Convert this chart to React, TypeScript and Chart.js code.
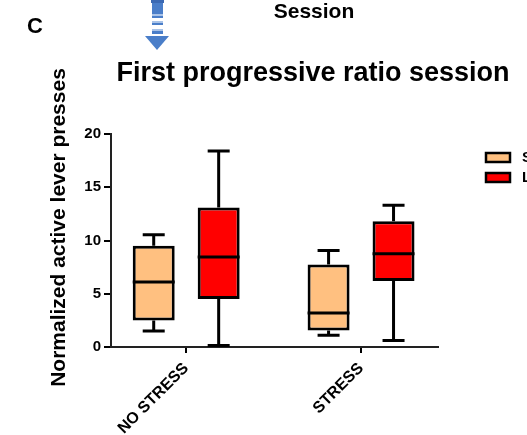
import { useEffect, useRef } from 'react';
import { Chart, registerables } from 'chart.js';

Chart.register(...registerables);

// Groups along the x axis
const categories = ['NO STRESS', 'STRESS'];

// Series names and fills
const seriesNames = ['ShA', 'LgA'];
const seriesColors = ['#FFC080', '#FF0000'];

// ShA box-plot statistics, one value per group
const shaMin = [1.5, 1.1];
const shaQ1 = [2.5, 1.55];
const shaMedian = [6.1, 3.2];
const shaQ3 = [9.5, 7.75];
const shaMax = [10.55, 9.05];

// LgA box-plot statistics, one value per group
const lgaMin = [0.15, 0.6];
const lgaQ1 = [4.5, 6.2];
const lgaMedian = [8.45, 8.75];
const lgaQ3 = [13.1, 11.8];
const lgaMax = [18.4, 13.3];

// Y axis tick values
const yTicks = [0, 5, 10, 15, 20];

const FONT = '"Liberation Sans", Arial, Helvetica, sans-serif';
const ARROW_BLUE = '#4a7ec9';

const seriesStats = [
  { min: shaMin, q1: shaQ1, median: shaMedian, q3: shaQ3, max: shaMax },
  { min: lgaMin, q1: lgaQ1, median: lgaMedian, q3: lgaQ3, max: lgaMax },
];

// Whiskers go under the boxes, medians on top of them
const boxPlotPlugin = {
  id: 'boxPlot',
  beforeDatasetsDraw(chart: any) {
    const ctx = chart.ctx;
    const y = chart.scales.y;
    ctx.save();
    ctx.strokeStyle = '#000';
    ctx.lineWidth = 3;
    ctx.lineCap = 'butt';
    chart.data.datasets.forEach((ds: any, di: number) => {
      const meta = chart.getDatasetMeta(di);
      meta.data.forEach((bar: any, i: number) => {
        const cx = bar.x;
        const yMin = y.getPixelForValue(ds.whiskerMin[i]);
        const yQ1 = y.getPixelForValue(ds.data[i].y[0]);
        const yQ3 = y.getPixelForValue(ds.data[i].y[1]);
        const yMax = y.getPixelForValue(ds.whiskerMax[i]);
        const cap = 11;
        ctx.beginPath();
        ctx.moveTo(cx, yQ1);
        ctx.lineTo(cx, yMin);
        ctx.moveTo(cx - cap, yMin);
        ctx.lineTo(cx + cap, yMin);
        ctx.moveTo(cx, yQ3);
        ctx.lineTo(cx, yMax);
        ctx.moveTo(cx - cap, yMax);
        ctx.lineTo(cx + cap, yMax);
        ctx.stroke();
      });
    });
    ctx.restore();
  },
  afterDatasetsDraw(chart: any) {
    const ctx = chart.ctx;
    const y = chart.scales.y;
    ctx.save();
    ctx.strokeStyle = '#000';
    ctx.lineWidth = 3;
    chart.data.datasets.forEach((ds: any, di: number) => {
      const meta = chart.getDatasetMeta(di);
      meta.data.forEach((bar: any, i: number) => {
        const yMed = y.getPixelForValue(ds.median[i]);
        ctx.beginPath();
        ctx.moveTo(bar.x - bar.width / 2, yMed);
        ctx.lineTo(bar.x + bar.width / 2, yMed);
        ctx.stroke();
      });
    });
    ctx.restore();
  },
};

// Panel letter, headings, axis title, legend and the arrow above the title
const decorPlugin = {
  id: 'decor',
  afterDraw(chart: any) {
    const ctx = chart.ctx;
    ctx.save();
    ctx.fillStyle = '#000';

    ctx.font = `bold 22px ${FONT}`;
    ctx.textAlign = 'left';
    ctx.textBaseline = 'alphabetic';
    ctx.fillText('C', 27, 33);

    ctx.font = `bold 21px ${FONT}`;
    ctx.textAlign = 'center';
    ctx.fillText('Session', 314, 18);

    ctx.font = `bold 27px ${FONT}`;
    ctx.fillText('First progressive ratio session', 313, 81);

    ctx.save();
    ctx.font = `bold 21px ${FONT}`;
    ctx.translate(65, 227.5);
    ctx.rotate(-Math.PI / 2);
    ctx.textAlign = 'center';
    ctx.fillText('Normalized active lever presses', 0, 0);
    ctx.restore();

    // legend
    chart.data.datasets.forEach((ds: any, di: number) => {
      const top = 153 + di * 20;
      ctx.fillStyle = ds.backgroundColor;
      ctx.fillRect(486, top, 24, 9);
      ctx.strokeStyle = '#000';
      ctx.lineWidth = 2.5;
      ctx.strokeRect(486, top, 24, 9);
      ctx.fillStyle = '#000';
      ctx.font = `bold 15px ${FONT}`;
      ctx.textAlign = 'left';
      ctx.textBaseline = 'middle';
      ctx.fillText(ds.label, 522, top + 5);
    });

    // arrow
    ctx.fillStyle = '#3b69b3';
    ctx.fillRect(151, 0, 13, 3);
    ctx.fillStyle = ARROW_BLUE;
    ctx.fillRect(152, 3, 11, 11);
    ctx.fillStyle = '#a9c3e8';
    ctx.fillRect(152, 14, 11, 2);
    ctx.fillStyle = ARROW_BLUE;
    ctx.fillRect(152, 16, 11, 2);
    ctx.fillStyle = '#a9c3e8';
    ctx.fillRect(152, 21, 11, 2);
    ctx.fillStyle = ARROW_BLUE;
    ctx.fillRect(152, 23, 11, 2);
    ctx.fillStyle = '#a9c3e8';
    ctx.fillRect(152, 29, 11, 2);
    ctx.fillStyle = ARROW_BLUE;
    ctx.fillRect(152, 31, 11, 3);
    ctx.beginPath();
    ctx.moveTo(145, 36);
    ctx.lineTo(169, 36);
    ctx.lineTo(157, 50);
    ctx.closePath();
    ctx.fill();

    ctx.restore();
  },
};

export default function App() {
  const ref = useRef<HTMLCanvasElement>(null);

  useEffect(() => {
    const datasets = seriesNames.map((name, si) => ({
      label: name,
      data: categories.map((_, i) => ({ x: i, y: [seriesStats[si].q1[i], seriesStats[si].q3[i]] })),
      whiskerMin: seriesStats[si].min,
      whiskerMax: seriesStats[si].max,
      median: seriesStats[si].median,
      backgroundColor: seriesColors[si],
      borderColor: '#000',
      borderWidth: 3,
      borderSkipped: false,
      categoryPercentage: 0.743,
      barPercentage: 0.646,
    }));

    const chart = new Chart(ref.current!, {
      type: 'bar',
      data: { datasets } as any,
      options: {
        responsive: false,
        animation: false,
        devicePixelRatio: 1,
        layout: { padding: { left: 0, right: 89, top: 134, bottom: 0 } },
        plugins: {
          legend: { display: false },
          tooltip: { enabled: false },
          title: { display: false },
        },
        scales: {
          x: {
            type: 'linear',
            offset: false,
            min: -0.43,
            max: 1.44,
            afterBuildTicks: (s: any) => {
              s.ticks = categories.map((_, i) => ({ value: i }));
            },
            afterFit: (s: any) => {
              s.height = 88;
            },
            ticks: {
              autoSkip: false,
              minRotation: 45,
              maxRotation: 45,
              padding: 6,
              color: '#000',
              font: { family: FONT, size: 16, weight: 'bold' },
              callback: (v: any) => categories[v as number],
            },
            grid: {
              display: true,
              offset: false,
              drawOnChartArea: false,
              drawTicks: true,
              tickLength: 6,
              color: '#000',
              lineWidth: 2,
            },
            border: { display: true, color: '#222', width: 2 },
          },
          y: {
            type: 'linear',
            min: 0,
            max: 20,
            afterBuildTicks: (s: any) => {
              s.ticks = yTicks.map((v) => ({ value: v }));
            },
            afterFit: (s: any) => {
              s.width = 111;
            },
            ticks: {
              padding: 3,
              color: '#000',
              font: { family: FONT, size: 15, weight: 'bold' },
            },
            grid: {
              display: true,
              drawOnChartArea: false,
              drawTicks: true,
              tickLength: 7,
              color: '#000',
              lineWidth: 2,
            },
            border: { display: true, color: '#222', width: 2 },
          },
        },
      } as any,
      plugins: [boxPlotPlugin, decorPlugin],
    });

    return () => chart.destroy();
  }, []);

  return (
    <canvas
      ref={ref}
      width={527}
      height={435}
      style={{ position: 'absolute', left: 0, top: 0, width: 527, height: 435 }}
    />
  );
}
